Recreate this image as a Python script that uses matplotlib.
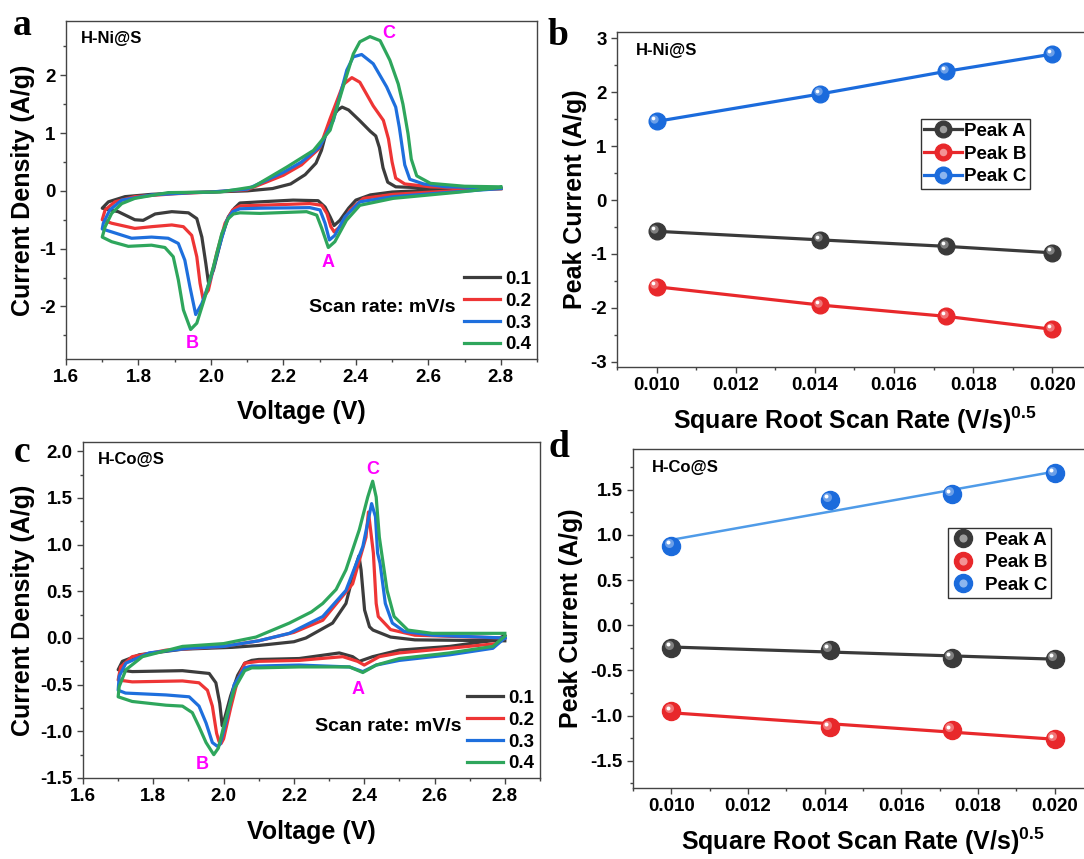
import numpy as np
import matplotlib
matplotlib.use('Agg')
from matplotlib import pyplot as plt
from matplotlib import transforms
from matplotlib.lines import Line2D
from matplotlib.ticker import MultipleLocator, FormatStrFormatter
from matplotlib.legend_handler import HandlerTuple
from matplotlib.colors import to_rgb

plt.rcParams['font.family'] = ['Liberation Sans', 'DejaVu Sans']
plt.rcParams['font.weight'] = 'bold'
plt.rcParams['axes.labelweight'] = 'bold'
plt.rcParams['axes.unicode_minus'] = False
plt.rcParams['mathtext.fontset'] = 'custom'
plt.rcParams['mathtext.rm'] = 'Liberation Sans:bold'
plt.rcParams['mathtext.bf'] = 'Liberation Sans:bold'
plt.rcParams['mathtext.default'] = 'rm'

# ---- data ----
scan_labels = ['0.1', '0.2', '0.3', '0.4']

# H-Ni@S cyclic voltammograms: (V, A/g), cathodic sweep 2.8 -> 1.7 then anodic back
ni_01 = [(2.80, 0.04), (2.70, 0.03), (2.60, 0.01), (2.50, -0.02), (2.44, -0.07), (2.40, -0.16),
         (2.38, -0.30), (2.356, -0.51), (2.34, -0.60), (2.329, -0.45), (2.315, -0.28), (2.296, -0.17),
         (2.227, -0.16), (2.135, -0.19), (2.08, -0.21), (2.065, -0.30), (2.048, -0.45), (2.03, -0.80),
         (2.007, -1.37), (1.993, -1.58), (1.986, -1.26), (1.975, -0.80), (1.961, -0.48), (1.938, -0.38),
         (1.892, -0.36), (1.846, -0.40), (1.813, -0.51), (1.79, -0.50), (1.744, -0.36), (1.70, -0.30),
         (1.717, -0.19), (1.763, -0.10), (1.836, -0.06), (1.928, -0.03), (2.0, -0.02), (2.1, 0.0),
         (2.17, 0.04), (2.22, 0.12), (2.26, 0.28), (2.29, 0.48), (2.305, 0.70), (2.32, 1.05),
         (2.335, 1.28), (2.35, 1.40), (2.362, 1.45), (2.38, 1.40), (2.41, 1.22), (2.44, 1.03),
         (2.455, 0.95), (2.465, 0.75), (2.475, 0.40), (2.488, 0.15), (2.51, 0.07), (2.6, 0.05),
         (2.7, 0.04), (2.8, 0.04)]
ni_02 = [(2.80, 0.04), (2.69, 0.01), (2.503, -0.06), (2.421, -0.13), (2.384, -0.33), (2.356, -0.62),
         (2.340, -0.71), (2.331, -0.62), (2.32, -0.39), (2.306, -0.25), (2.273, -0.22), (2.135, -0.25),
         (2.08, -0.26), (2.06, -0.33), (2.039, -0.56), (2.016, -1.08), (1.993, -1.72), (1.978, -1.86),
         (1.97, -1.60), (1.961, -1.14), (1.947, -0.77), (1.924, -0.62), (1.892, -0.59), (1.836, -0.62),
         (1.79, -0.65), (1.726, -0.56), (1.70, -0.50),
         (1.708, -0.33), (1.735, -0.19), (1.79, -0.10), (1.9, -0.05), (2.0, -0.02), (2.1, 0.02),
         (2.2, 0.27), (2.25, 0.45), (2.30, 0.74), (2.329, 1.25), (2.365, 1.84), (2.389, 1.96),
         (2.411, 1.88), (2.448, 1.47), (2.476, 1.22), (2.49, 0.90), (2.50, 0.50), (2.51, 0.22),
         (2.535, 0.12), (2.606, 0.07), (2.7, 0.05), (2.8, 0.04)]
ni_03 = [(2.80, 0.04), (2.69, -0.01), (2.503, -0.10), (2.411, -0.19), (2.37, -0.45), (2.342, -0.77),
         (2.327, -0.85), (2.315, -0.56), (2.301, -0.33), (2.273, -0.29), (2.135, -0.30), (2.08, -0.31),
         (2.06, -0.36), (2.044, -0.51), (2.02, -1.03), (1.998, -1.54), (1.975, -1.95), (1.958, -2.14),
         (1.942, -1.66), (1.928, -1.20), (1.91, -0.91), (1.882, -0.82), (1.836, -0.80), (1.781, -0.82),
         (1.726, -0.71), (1.70, -0.66),
         (1.703, -0.56), (1.721, -0.33), (1.754, -0.16), (1.836, -0.07), (1.95, -0.03), (2.0, -0.02),
         (2.1, 0.03), (2.2, 0.32), (2.25, 0.50), (2.30, 0.76), (2.338, 1.22), (2.375, 2.09),
         (2.393, 2.32), (2.416, 2.36), (2.448, 2.20), (2.485, 1.80), (2.51, 1.45), (2.52, 1.10),
         (2.535, 0.45), (2.549, 0.20), (2.587, 0.12), (2.65, 0.07), (2.8, 0.05)]
ni_04 = [(2.80, 0.06), (2.688, -0.02), (2.503, -0.13), (2.411, -0.25), (2.374, -0.51), (2.342, -0.88),
         (2.324, -0.98), (2.306, -0.65), (2.292, -0.42), (2.264, -0.36), (2.135, -0.39), (2.08, -0.38),
         (2.062, -0.40), (2.048, -0.48), (2.03, -0.74), (2.007, -1.31), (1.984, -1.83), (1.961, -2.29),
         (1.944, -2.40), (1.924, -2.06), (1.91, -1.54), (1.896, -1.14), (1.873, -0.98), (1.836, -0.94),
         (1.772, -0.96), (1.726, -0.88), (1.70, -0.80),
         (1.708, -0.62), (1.726, -0.39), (1.754, -0.22), (1.79, -0.13), (1.882, -0.03), (2.025, -0.02),
         (2.117, 0.07), (2.209, 0.41), (2.283, 0.70), (2.329, 1.05), (2.365, 1.80), (2.393, 2.37),
         (2.411, 2.58), (2.439, 2.67), (2.467, 2.60), (2.494, 2.26), (2.517, 1.85), (2.53, 1.50),
         (2.544, 0.99), (2.553, 0.55), (2.568, 0.26), (2.606, 0.13), (2.70, 0.08), (2.8, 0.07)]

# H-Co@S cyclic voltammograms
co_01 = [(2.80, 0.03), (2.776, -0.02), (2.643, -0.09), (2.50, -0.13), (2.424, -0.20), (2.386, -0.25),
         (2.367, -0.20), (2.329, -0.16), (2.215, -0.22), (2.10, -0.23), (2.08, -0.24), (2.06, -0.27),
         (2.04, -0.40), (2.02, -0.62), (2.0, -0.90), (1.996, -0.94), (1.989, -0.70), (1.978, -0.48),
         (1.959, -0.38), (1.883, -0.35), (1.74, -0.36), (1.70, -0.34),
         (1.712, -0.25), (1.76, -0.18), (1.883, -0.12), (2.025, -0.10), (2.1, -0.08), (2.2, -0.04),
         (2.234, 0.0), (2.31, 0.16), (2.348, 0.37), (2.372, 0.73), (2.385, 0.88), (2.391, 0.73),
         (2.401, 0.30), (2.415, 0.12), (2.425, 0.085), (2.475, 0.01), (2.544, -0.02), (2.8, -0.03)]
co_02 = [(2.80, 0.0), (2.776, -0.06), (2.643, -0.11), (2.50, -0.16), (2.443, -0.20), (2.40, -0.29),
         (2.381, -0.25), (2.339, -0.20), (2.215, -0.24), (2.10, -0.25), (2.06, -0.27), (2.04, -0.45),
         (2.02, -0.75), (2.0, -1.08), (1.993, -1.13), (1.987, -1.11), (1.98, -1.02), (1.968, -0.73),
         (1.954, -0.56), (1.93, -0.48), (1.883, -0.46), (1.74, -0.47), (1.70, -0.45),
         (1.707, -0.31), (1.74, -0.20), (1.836, -0.13), (2.0, -0.09), (2.1, -0.03), (2.2, 0.06),
         (2.282, 0.19), (2.367, 0.58), (2.405, 1.08), (2.412, 1.35), (2.426, 0.91), (2.434, 0.37),
         (2.44, 0.23), (2.475, 0.09), (2.544, 0.03), (2.8, 0.0)]
co_03 = [(2.80, 0.0), (2.766, -0.11), (2.643, -0.18), (2.50, -0.24), (2.434, -0.29), (2.396, -0.36),
         (2.358, -0.31), (2.215, -0.29), (2.10, -0.30), (2.08, -0.30), (2.06, -0.32), (2.03, -0.50),
         (2.01, -0.85), (1.99, -1.14), (1.982, -1.16), (1.968, -1.12), (1.95, -0.91), (1.93, -0.73),
         (1.902, -0.63), (1.836, -0.61), (1.721, -0.59), (1.70, -0.56),
         (1.703, -0.41), (1.722, -0.27), (1.788, -0.16), (1.9, -0.11), (2.0, -0.09), (2.1, -0.03),
         (2.187, 0.05), (2.282, 0.23), (2.348, 0.51), (2.396, 0.98), (2.415, 1.33), (2.421, 1.44),
         (2.432, 1.30), (2.438, 0.91), (2.445, 0.80), (2.46, 0.37), (2.48, 0.16), (2.514, 0.07),
         (2.593, 0.03), (2.8, 0.0)]
co_04 = [(2.80, 0.02), (2.766, -0.09), (2.643, -0.16), (2.50, -0.22), (2.434, -0.29), (2.396, -0.37),
         (2.358, -0.31), (2.215, -0.31), (2.10, -0.32), (2.08, -0.32), (2.06, -0.35), (2.03, -0.55),
         (2.0, -0.95), (1.985, -1.18), (1.972, -1.25), (1.95, -1.12), (1.93, -0.95), (1.911, -0.80),
         (1.883, -0.73), (1.836, -0.72), (1.74, -0.68), (1.70, -0.63),
         (1.703, -0.52), (1.722, -0.34), (1.769, -0.20), (1.883, -0.09), (2.0, -0.06), (2.092, 0.01),
         (2.187, 0.16), (2.25, 0.28), (2.282, 0.37), (2.32, 0.52), (2.348, 0.73), (2.386, 1.16),
         (2.41, 1.51), (2.424, 1.68), (2.434, 1.51), (2.443, 1.08), (2.465, 0.51), (2.485, 0.23),
         (2.524, 0.085), (2.593, 0.05), (2.8, 0.05)]

# peak currents vs square root of scan rate
sqrt_rate = [0.0100, 0.01414, 0.01732, 0.0200]
ni_peak_a = [-0.58, -0.74, -0.86, -0.98]
ni_peak_b = [-1.61, -1.95, -2.16, -2.40]
ni_peak_c = [1.46, 1.97, 2.39, 2.71]
co_peak_a = [-0.25, -0.27, -0.36, -0.37]
co_peak_b = [-0.95, -1.13, -1.16, -1.26]
co_peak_c = [0.88, 1.39, 1.45, 1.68]
peak_names = ['Peak A', 'Peak B', 'Peak C']

cv_colors = ['#3c3c3c', '#ee3535', '#1e6fdd', '#2ea65c']
ball_colors = ['#3a3a3a', '#e8282b', '#1b6bdc']
magenta = '#ff00ff'

W, H = 1084, 859
fig = plt.figure(figsize=(W / 100, H / 100), dpi=100)


def px_axes(l, t, r, b):
    return fig.add_axes([l / W, 1 - b / H, (r - l) / W, (b - t) / H])


ax_a = px_axes(66, 21, 537, 359)
ax_b = px_axes(617, 32, 1092, 367)
ax_c = px_axes(83, 442, 540, 778)
ax_d = px_axes(633, 449, 1093, 788)


def style(ax):
    for s in ax.spines.values():
        s.set_linewidth(1.0)
        s.set_color('#444444')
    ax.tick_params(which='both', direction='out', labelsize=13.5, color='#444444',
                   top=False, right=False)
    ax.tick_params(which='major', length=4, width=1)
    ax.tick_params(which='minor', length=2.5, width=1)


def lighten(c, f):
    r, g, b = to_rgb(c)
    return (r + (1 - r) * f, g + (1 - g) * f, b + (1 - b) * f)


def balls(ax, x, y, c, ms):
    ax.plot(x, y, 'o', ms=ms, color=c, mec=c, zorder=3)
    off1 = transforms.offset_copy(ax.transData, fig=fig, x=-ms * 0.15, y=ms * 0.15, units='points')
    ax.plot(x, y, 'o', ms=ms * 0.5, color=lighten(c, 0.35), mec='none', transform=off1, zorder=4)
    off2 = transforms.offset_copy(ax.transData, fig=fig, x=-ms * 0.2, y=ms * 0.2, units='points')
    ax.plot(x, y, 'o', ms=ms * 0.22, color='white', mec='none', transform=off2, zorder=5)


# ---- panel a / c : CV curves ----
for ax, curves, tag, ylim, ymaj, ymin, yfmt, peaks in [
        (ax_a, [ni_01, ni_02, ni_03, ni_04], 'H-Ni@S', (-2.91, 2.94), 1, 0.5, '%d',
         [('A', 2.323, -1.24), ('B', 1.948, -2.64), ('C', 2.49, 2.72)]),
        (ax_c, [co_01, co_02, co_03, co_04], 'H-Co@S', (-1.5, 2.1), 0.5, 0.25, '%.1f',
         [('A', 2.383, -0.55), ('B', 1.94, -1.36), ('C', 2.425, 1.81)])]:
    handles = []
    for pts, c, lab in zip(curves, cv_colors, scan_labels):
        arr = np.array(pts)
        h, = ax.plot(arr[:, 0], arr[:, 1], color=c, lw=2.3, label=lab, solid_joinstyle='round')
        handles.append(h)
    ax.set_xlim(1.6, 2.9)
    ax.set_ylim(*ylim)
    ax.xaxis.set_major_locator(MultipleLocator(0.2))
    ax.xaxis.set_minor_locator(MultipleLocator(0.1))
    ax.xaxis.set_major_formatter(FormatStrFormatter('%.1f'))
    ax.yaxis.set_major_locator(MultipleLocator(ymaj))
    ax.yaxis.set_minor_locator(MultipleLocator(ymin))
    ax.yaxis.set_major_formatter(FormatStrFormatter(yfmt))
    style(ax)
    ax.set_xlabel('Voltage (V)', fontsize=18)
    ax.set_ylabel('Current Density (A/g)', fontsize=18)
    ax.text(0.032, 0.947, tag, transform=ax.transAxes, fontsize=12, va='center', ha='left')
    ax.text(0.828, 0.152, 'Scan rate: mV/s', transform=ax.transAxes, fontsize=14,
            va='center', ha='right')
    for name, px, py in peaks:
        ax.text(px, py, name, color=magenta, fontsize=13, ha='center', va='center')
    ax.legend(handles=handles, loc='lower right', bbox_to_anchor=(1.0, 0.0), frameon=False,
              fontsize=13.5, handlelength=1.9, handletextpad=0.3, labelspacing=0.25,
              borderpad=0.2, borderaxespad=0.1)

ax_a.yaxis.set_label_coords(-0.066, 0.5)
ax_a.xaxis.set_label_coords(0.5, -0.12)
ax_c.yaxis.set_label_coords(-0.105, 0.5)
ax_c.xaxis.set_label_coords(0.5, -0.125)

# ---- panel b / d : peak current vs sqrt(scan rate) ----
for ax, series, tag, ylim, ymaj, ymin, yfmt, fit, ms, leg_xy in [
        (ax_b, [ni_peak_a, ni_peak_b, ni_peak_c], 'H-Ni@S', (-3.1, 3.12), 1, 0.5, '%d', False, 12,
         (0.639, 0.74)),
        (ax_d, [co_peak_a, co_peak_b, co_peak_c], 'H-Co@S', (-1.8, 1.95), 0.5, 0.25, '%.1f', True, 13,
         (0.684, 0.768))]:
    x = np.array(sqrt_rate)
    handles = []
    for k, (vals, c) in enumerate(zip(series, ball_colors)):
        y = np.array(vals)
        lc = c
        lw = 2.3
        if fit:
            p = np.polyfit(x, y, 1)
            xf = np.array([x[0], x[-1]])
            if k == 2:
                lc = '#4f9be8'
                lw = 1.8
            ax.plot(xf, np.polyval(p, xf), color=lc, lw=lw, zorder=2)
        else:
            ax.plot(x, y, color=lc, lw=lw, zorder=2)
        balls(ax, x, y, c, ms)
        m1 = Line2D([], [], color=lc, lw=(0 if fit else lw), marker='o', ms=ms, mfc=c, mec=c)
        m2 = Line2D([], [], ls='none', marker='o', ms=ms * 0.45, mfc=lighten(c, 0.5), mec='none')
        handles.append((m1, m2))
    ax.set_ylim(*ylim)
    ax.xaxis.set_major_locator(MultipleLocator(0.002))
    ax.xaxis.set_minor_locator(MultipleLocator(0.001))
    ax.xaxis.set_major_formatter(FormatStrFormatter('%.3f'))
    ax.yaxis.set_major_locator(MultipleLocator(ymaj))
    ax.yaxis.set_minor_locator(MultipleLocator(ymin))
    ax.yaxis.set_major_formatter(FormatStrFormatter(yfmt))
    style(ax)
    ax.set_xlabel('Square Root Scan Rate (V/s)$^{0.5}$', fontsize=18)
    ax.set_ylabel('Peak Current (A/g)', fontsize=18)
    ax.text(0.04, 0.944, tag, transform=ax.transAxes, fontsize=12, va='center', ha='left')
    leg = ax.legend(handles, peak_names, loc='upper left', bbox_to_anchor=leg_xy,
                    handler_map={tuple: HandlerTuple(ndivide=1, pad=0)}, fontsize=13.5,
                    handlelength=(1.2 if fit else 2.0), handletextpad=(0.6 if fit else 0.1),
                    labelspacing=0.3, borderpad=0.2, borderaxespad=0.0, fancybox=False,
                    edgecolor='#333333', framealpha=1)
    leg.get_frame().set_linewidth(1.0)

ax_b.set_xlim(0.009, 0.021)
ax_d.set_xlim(0.009, 0.021)
ax_b.yaxis.set_label_coords(-0.063, 0.5)
ax_b.xaxis.set_label_coords(0.5, -0.113)
ax_d.yaxis.set_label_coords(-0.109, 0.5)
ax_d.xaxis.set_label_coords(0.5, -0.112)

# panel letters
for lab, px, py in [('a', 22, 35), ('b', 558, 45), ('c', 22, 462), ('d', 559, 457)]:
    fig.text(px / W, 1 - py / H, lab, fontsize=27, fontweight='bold', family='Liberation Serif',
             ha='center', va='baseline')

fig.savefig('out.png', dpi=100)
